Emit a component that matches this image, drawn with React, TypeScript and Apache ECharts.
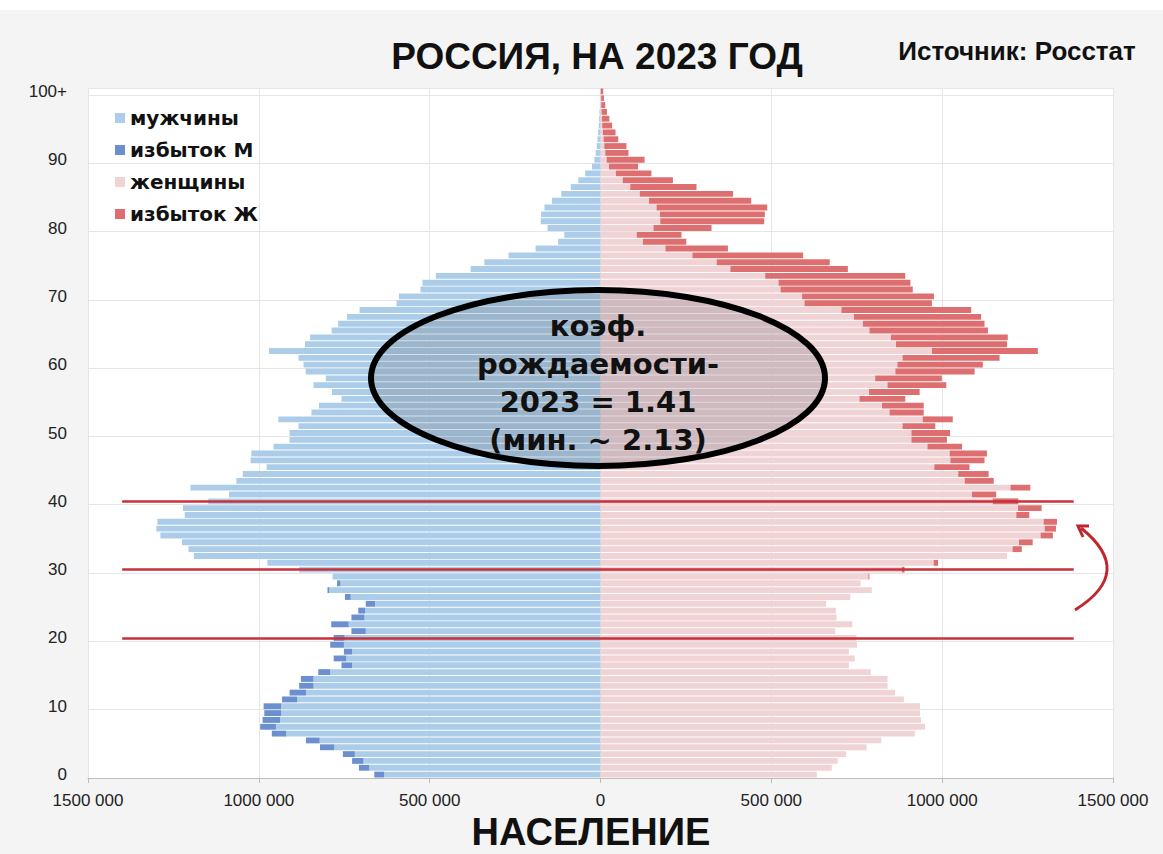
import React, { useEffect, useRef } from "react";
import * as echarts from "echarts";

// ages 0..100 (100 = "100+")
const ages: string[] = Array.from({ length: 101 }, (_, i) => String(i));

// population by single year of age, thousands
const male: number[] = [
  662, 707, 727, 754, 821, 862, 962, 996, 989, 984,
  986, 932, 910, 882, 877, 826, 758, 781, 751, 791,
  781, 729, 788, 729, 709, 687, 748, 799, 771, 784,
  882, 975, 1190, 1206, 1225, 1288, 1300, 1297, 1217, 1222,
  1148, 1087, 1200, 1066, 1047, 977, 1024, 1022, 957, 910,
  910, 884, 943, 846, 824, 758, 786, 840, 804, 863,
  869, 884, 970, 865, 850, 787, 768, 742, 705, 597,
  590, 527, 521, 482, 380, 340, 269, 190, 124, 106,
  155, 175, 174, 164, 142, 115, 87, 65, 45, 25,
  18, 14, 11, 9, 7, 5, 4, 3, 2, 2,
  1,
];

const female: number[] = [
  633, 677, 694, 719, 779, 822, 920, 950, 938, 935,
  935, 888, 862, 840, 840, 791, 727, 744, 727, 751,
  749, 687, 737, 691, 689, 660, 731, 794, 761, 787,
  890, 988, 1190, 1233, 1265, 1324, 1333, 1336, 1255, 1291,
  1223, 1158, 1258, 1151, 1136, 1080, 1124, 1131, 1058, 1014,
  1023, 980, 1031, 946, 946, 892, 934, 1012, 999, 1095,
  1119, 1168, 1280, 1190, 1192, 1134, 1124, 1114, 1085, 970,
  976, 914, 907, 892, 724, 671, 593, 373, 251, 237,
  325, 479, 481, 488, 441, 388, 281, 212, 149, 110,
  129, 82, 76, 52, 44, 34, 26, 19, 14, 10,
  8,
];

const markedAges: string[] = ["20", "30", "40"];
const seriesNames = ["мужчины", "избыток М", "женщины", "избыток Ж"];
const xTicks = { min: -1500, max: 1500, step: 500 };

const SANS = "'Liberation Sans', Arial, sans-serif";
const VERD = "'DejaVu Sans', Verdana, sans-serif";

export default function App() {
  const ref = useRef<HTMLDivElement>(null);

  useEffect(() => {
    if (!ref.current) return;
    const chart = echarts.init(ref.current, undefined, { renderer: "svg" });

    const maleBase = male.map((m, i) => -Math.min(m, female[i]));
    const maleExcess = male.map((m, i) => -Math.max(0, m - female[i]));
    const femaleBase = female.map((f, i) => Math.min(f, male[i]));
    const femaleExcess = female.map((f, i) => Math.max(0, f - male[i]));

    const colors = ["#abcde9", "#6b8fcf", "#f0d3d5", "#de6f70"];
    const datas = [maleBase, maleExcess, femaleBase, femaleExcess];

    const series: any[] = datas.map((d, k) => ({
      name: seriesNames[k],
      type: "bar",
      stack: "pop",
      data: d,
      barCategoryGap: "14%",
      itemStyle: { color: colors[k] },
      z: 2,
    }));

    series[3].markLine = {
      silent: true,
      symbol: "none",
      label: { show: false },
      lineStyle: { color: "#c9313a", width: 2.5, type: "solid" },
      data: markedAges.map((a) => [
        { coord: [-1400, a] },
        { coord: [1385, a] },
      ]),
    };

    chart.setOption({
      animation: false,
      backgroundColor: "#f4f4f4",
      grid: {
        left: 88,
        right: 50,
        top: 88,
        bottom: 76,
        show: true,
        backgroundColor: "#ffffff",
        borderWidth: 0,
      },
      legend: {
        data: seriesNames,
        orient: "vertical",
        left: 110,
        top: 103,
        itemWidth: 10,
        itemHeight: 10,
        itemGap: 12,
        icon: "rect",
        textStyle: {
          fontFamily: VERD,
          fontWeight: "bold",
          fontSize: 20,
          color: "#111",
        },
      },
      xAxis: {
        type: "value",
        min: xTicks.min,
        max: xTicks.max,
        interval: xTicks.step,
        axisLine: { show: true, lineStyle: { color: "#bdbdbd" } },
        axisTick: { show: true, length: 5, lineStyle: { color: "#bdbdbd" } },
        axisLabel: {
          margin: 14,
          fontSize: 17,
          fontFamily: SANS,
          color: "#222",
          formatter: (v: number) => (v === 0 ? "0" : Math.abs(v) + " 000"),
        },
        splitLine: { show: true, lineStyle: { color: "#e6e6e6" } },
      },
      yAxis: {
        type: "category",
        data: ages,
        axisLine: { show: false },
        axisTick: { show: false },
        axisLabel: {
          interval: (i: number) => i % 10 === 0,
          formatter: (v: string) => (v === "100" ? "100+" : v),
          fontSize: 17,
          fontFamily: SANS,
          color: "#222",
          margin: 21,
        },
        splitLine: {
          show: true,
          interval: (i: number) => i % 10 === 0,
          lineStyle: { color: "#e6e6e6" },
        },
      },
      series,
      graphic: [
        {
          type: "rect",
          shape: { x: 0, y: 0, width: 1163, height: 10 },
          style: { fill: "#ffffff" },
          silent: true,
        },
        {
          type: "text",
          x: 597,
          y: 56,
          style: {
            text: "РОССИЯ, НА 2023 ГОД",
            font: `bold 37px ${SANS}`,
            fill: "#111",
            textAlign: "center",
            textVerticalAlign: "middle",
          },
        },
        {
          type: "text",
          x: 1017,
          y: 51,
          style: {
            text: "Источник: Росстат",
            font: `bold 26px ${SANS}`,
            fill: "#111",
            textAlign: "center",
            textVerticalAlign: "middle",
          },
        },
        {
          type: "text",
          x: 591,
          y: 832,
          style: {
            text: "НАСЕЛЕНИЕ",
            font: `bold 38px ${SANS}`,
            fill: "#111",
            textAlign: "center",
            textVerticalAlign: "middle",
          },
        },
        {
          type: "ellipse",
          shape: { cx: 598, cy: 378, rx: 227, ry: 88 },
          style: {
            fill: "rgba(95,100,115,0.22)",
            stroke: "#000",
            lineWidth: 6,
          },
          z: 10,
        },
        {
          type: "text",
          x: 598,
          y: 383,
          z: 11,
          style: {
            text: "коэф.\nрождаемости-\n2023 = 1.41\n(мин. ~ 2.13)",
            font: `bold 29px ${VERD}`,
            lineHeight: 38,
            fill: "#111",
            textAlign: "center",
            textVerticalAlign: "middle",
          },
        },
        {
          type: "bezierCurve",
          shape: { x1: 1075, y1: 610, x2: 1081, y2: 528, cpx1: 1136, cpy1: 572 },
          style: { stroke: "#c0272d", lineWidth: 3, fill: "none" },
          z: 10,
        },
        {
          type: "polyline",
          shape: { points: [[1089, 526], [1078, 526], [1083, 537]] },
          style: { stroke: "#c0272d", lineWidth: 3, fill: "none" },
          z: 10,
        },
      ],
    });

    return () => chart.dispose();
  }, []);

  return (
    <div
      ref={ref}
      style={{ position: "fixed", left: 0, top: 0, width: 1163, height: 854 }}
    />
  );
}
